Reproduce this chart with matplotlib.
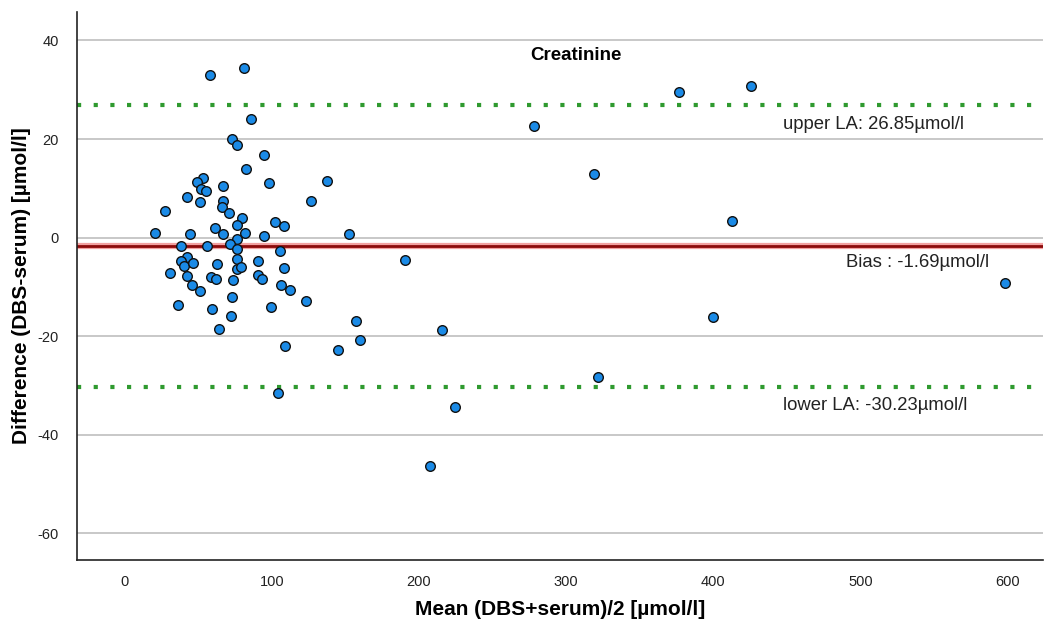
import matplotlib
matplotlib.use("Agg")
import matplotlib.pyplot as plt

plt.rcParams['font.family'] = ['Liberation Sans', 'DejaVu Sans']

# Bland-Altman data: mean (x) and difference (y), µmol/l
mean_vals = [58.1, 81.2, 85.7, 73.2, 76.6, 94.9, 82.3, 53.1, 49.0, 51.7,
             55.3, 67.1, 98.3, 137.7, 42.2, 51.3, 66.9, 66.0, 27.7, 71.2,
             80.0, 126.7, 76.6, 102.2, 108.1, 61.3, 20.7, 44.7, 66.9, 81.8,
             94.9, 76.6, 152.5, 38.2, 55.8, 71.6, 76.6, 105.4, 42.2, 38.2,
             40.6, 46.3, 62.8, 76.6, 90.5, 76.6, 79.1, 108.5, 30.9, 42.2,
             58.7, 62.3, 90.9, 93.4, 73.5, 45.6, 51.3, 106.5, 112.6, 72.8,
             123.5, 36.5, 59.2, 99.3, 72.5, 64.4, 109.0, 145.2, 104.4, 157.0,
             160.1, 190.3, 215.4, 224.7, 207.5, 278.1, 376.6, 425.5, 319.0, 412.5,
             399.9, 321.4, 598.2]
diff_vals = [33.0, 34.4, 24.1, 20.1, 18.8, 16.7, 13.9, 12.1, 11.2, 9.9,
             9.5, 10.4, 11.0, 11.4, 8.3, 7.3, 7.5, 6.2, 5.4, 4.9,
             4.0, 7.4, 2.6, 3.2, 2.4, 2.0, 0.9, 0.7, 0.75, 0.9,
             0.3, -0.3, 0.7, -1.7, -1.7, -1.3, -2.4, -2.8, -3.9, -4.7,
             -5.7, -5.2, -5.3, -4.3, -4.7, -6.4, -6.0, -6.1, -7.2, -7.7,
             -8.0, -8.3, -7.5, -8.4, -8.6, -9.7, -10.9, -9.7, -10.7, -12.0,
             -12.8, -13.7, -14.4, -14.1, -15.9, -18.5, -22.0, -22.8, -31.6, -17.0,
             -20.7, -4.6, -18.8, -34.4, -46.3, 22.7, 29.5, 30.8, 12.9, 3.4,
             -16.1, -28.3, -9.25]

bias = -1.69
upper_la = 26.85
lower_la = -30.23

x_ticks = [0, 100, 200, 300, 400, 500, 600]
y_ticks = [40, 20, 0, -20, -40, -60]

fig = plt.figure(figsize=(10.45, 6.23), dpi=100)
ax = fig.add_axes([0.0737, 0.101, 0.9243, 0.880])

ax.set_xlim(-32.3, 623.8)
ax.set_ylim(-65.4, 45.8)

for t in y_ticks:
    ax.axhline(t, color='#c4c4c4', lw=1.3, zorder=1)

# limits of agreement
ax.axhline(upper_la, color='#2f9a2f', lw=3, linestyle=(0, (1, 3)), zorder=2)
ax.axhline(lower_la, color='#2f9a2f', lw=3, linestyle=(0, (1, 3)), zorder=2)
# bias line
ax.axhline(bias, color='#f2a0a0', lw=4.5, zorder=2)
ax.axhline(bias, color='#8b0a0a', lw=2.0, zorder=2)

ax.scatter(mean_vals, diff_vals, s=48, facecolor='#1a8ae6', edgecolor='#111111',
           linewidth=1.0, zorder=3)

ax.set_xticks(x_ticks)
ax.set_yticks(y_ticks)
ax.set_xticklabels([str(v) for v in x_ticks], fontsize=10.5, color='#222222',
                   family=['Liberation Sans Narrow', 'Liberation Sans', 'DejaVu Sans'])
ax.set_yticklabels([str(v) for v in y_ticks], fontsize=10.5, color='#222222')
ax.tick_params(axis='both', length=0)
ax.tick_params(axis='x', pad=11)
ax.tick_params(axis='y', pad=13)

for s in ['top', 'right']:
    ax.spines[s].set_visible(False)
for s in ['left', 'bottom']:
    ax.spines[s].set_color('#222222')
    ax.spines[s].set_linewidth(1.2)

ax.set_xlabel('Mean (DBS+serum)/2 [µmol/l]', fontsize=15, fontweight='bold', labelpad=8)
ax.set_ylabel('Difference (DBS-serum) [µmol/l]', fontsize=15, fontweight='bold', labelpad=5)

ax.text(0.517, 0.921, 'Creatinine', transform=ax.transAxes, ha='center', va='center',
        fontsize=13.5, fontweight='bold')

ax.text(447, 22.9, 'upper LA: 26.85µmol/l', ha='left', va='center', fontsize=13.3, color='#222222')
ax.text(490, -5.1, 'Bias : -1.69µmol/l', ha='left', va='center', fontsize=13.3, color='#222222')
ax.text(447, -34.1, 'lower LA: -30.23µmol/l', ha='left', va='center', fontsize=13.3, color='#222222')

fig.savefig('out.png', dpi=100)
